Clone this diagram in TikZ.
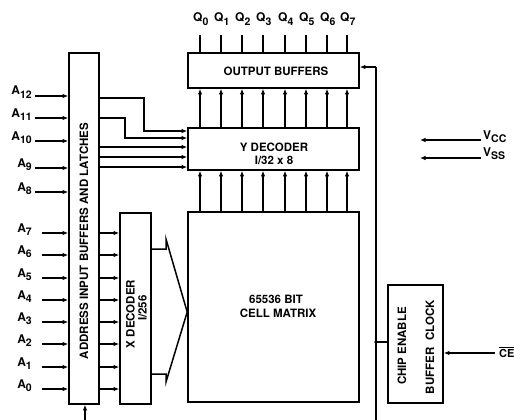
\documentclass[tikz,border=0pt]{standalone}
\usepackage{fontspec}
\setmainfont{TeX Gyre Heros}
\usetikzlibrary{arrows.meta}
\newcommand\sbs[1]{\raisebox{-3.5pt}{\fontsize{10.5}{11}\selectfont #1}}
\tikzset{
  box/.style={draw, line width=1.6pt, inner sep=0pt},
  txt/.style={font=\fontsize{11.5}{12}\selectfont\bfseries, inner sep=0pt},
  lab/.style={font=\fontsize{12}{13}\selectfont\bfseries, inner sep=0pt},
  wire/.style={line width=1.5pt},
  arr/.style={wire, -{Latex[length=5.5pt,width=4.5pt]}},
}
\begin{document}
\begin{tikzpicture}[x=1pt,y=-1pt]
\useasboundingbox (0,0) rectangle (514,420);
% boxes
\node[box, minimum width=30pt, minimum height=351pt] (addr) at (84,228.5) {};
\node[box, minimum width=171pt, minimum height=35pt] (ob) at (273.5,70.5) {};
\node[box, minimum width=171pt, minimum height=42pt] (yd) at (273.5,149) {};
\node[box, minimum width=171pt, minimum height=190pt] (cm) at (273.5,307) {};
\node[box, minimum width=31pt, minimum height=191pt] (xd) at (135.5,308.5) {};
\node[box, minimum width=55pt, minimum height=118pt] (ce) at (415.5,344) {};
% box texts
\node[txt, rotate=90] (addrtxt) at (84,241) {ADDRESS INPUT BUFFERS AND LATCHES};
\node[txt] (obtxt) at (276,71) {OUTPUT BUFFERS};
\node[txt] (ydt1) at (274,147) {Y DECODER};
\node[txt] (ydt2) at (274,160) {I/32 x 8};
\node[txt] (cmt1) at (276,299) {65536 BIT};
\node[txt] (cmt2) at (278,313) {CELL MATRIX};
\node[txt, rotate=90] (xdt1) at (130.5,314) {X DECODER};
\node[txt, rotate=90] (xdt2) at (142.5,308) {I/256};
\node[txt, rotate=90] (cet1) at (402,346) {CHIP ENABLE};
\node[txt, rotate=90] (cet2) at (430,347) {BUFFER\hspace{7pt}CLOCK};
% outputs and data arrows
\foreach \x [count=\i from 0] in {200,221,242,263,285,306,327,347} {
  \node[lab, anchor=base west] (q\i) at (\x-7,22) {Q\sbs{\i}};
  \coordinate (qe\i) at (\x,35);
  \draw[wire] (ob.north -| qe\i) -- (qe\i);
  \draw[arr] (yd.north -| qe\i) -- (ob.south -| qe\i);
  \draw[arr] (cm.north -| qe\i) -- (yd.south -| qe\i);
}
% upper address inputs
\foreach \n/\y in {12/96,11/118,10/141,9/168,8/192} {
  \node[lab, anchor=base east] (a\n) at (32,\y-1) {A\sbs{\n}};
  \coordinate (ia\n) at (35,\y);
  \draw[arr] (ia\n) -- (addr.west |- ia\n);
}
% lower address inputs and buffer-to-X-decoder arrows
\foreach \n/\y in {7/233,6/255,5/278,4/300,3/322,2/344,1/367,0/389} {
  \node[lab, anchor=base east] (a\n) at (32,\y-1) {A\sbs{\n}};
  \coordinate (ia\n) at (42,\y);
  \draw[arr] (ia\n) -- (addr.west |- ia\n);
  \draw[arr] (addr.east |- ia\n) -- (xd.west |- ia\n);
}
% buffer to Y decoder
\draw[arr] (addr.east |- 0,98) -- (144,98) -- (144,131) -- (yd.west |- 0,131);
\draw[arr] (addr.east |- 0,118) -- (125,118) -- (125,138) -- (yd.west |- 0,138);
\foreach \y in {147,157,167} {
  \draw[arr] (addr.east |- 0,\y) -- (yd.west |- 0,\y);
}
% X decoder bus to cell matrix
\draw[wire, line join=miter] (xd.east |- 0,249) -- (166,249) -- (166,239) -- (cm.west |- 0,312)
  -- (166,382) -- (166,374) -- (xd.east |- 0,374);
% address clock input at bottom
\coordinate (abot) at (85,420);
\draw[arr] (abot) -- (addr.south -| abot);
% chip enable control line
\coordinate (cetop) at (376,67);
\coordinate (cebot) at (376,420);
\coordinate (cej) at (376,342);
\draw[wire] (cebot) -- (cetop);
\draw[arr] (cetop) -- (ob.east |- cetop);
\draw[wire] (ce.west |- cej) -- (cej);
\fill (cej) circle (1.8pt);
% CE input
\node[lab, font=\fontsize{11}{12}\selectfont\bfseries, anchor=base west] (cein) at (499,357) {$\overline{\mbox{CE}}$};
\coordinate (cestart) at (495,353);
\draw[arr] (cestart) -- (ce.east |- cestart);
% power
\node[lab, anchor=base west] (vcc) at (483,139) {V\sbs{CC}};
\node[lab, anchor=base west] (vss) at (483,156) {V\sbs{SS}};
\coordinate (vccs) at (481,140);
\coordinate (vcce) at (420,140);
\coordinate (vsss) at (481,158);
\coordinate (vsse) at (420,158);
\draw[arr] (vccs) -- (vcce);
\draw[arr] (vsss) -- (vsse);
\end{tikzpicture}
\end{document}
